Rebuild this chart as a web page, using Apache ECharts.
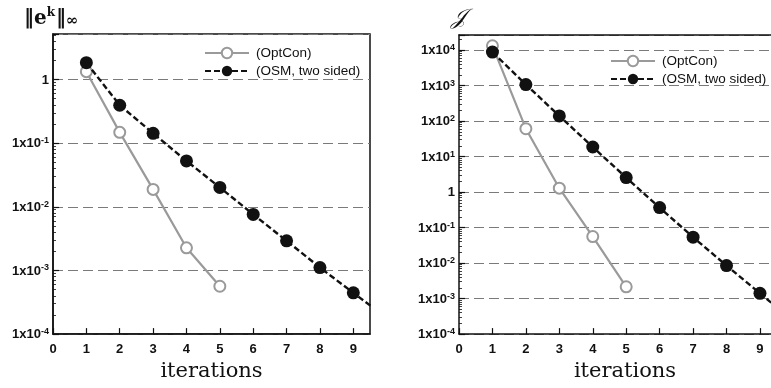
<!DOCTYPE html>
<html>
<head>
<meta charset="utf-8">
<script src="https://cdn.jsdelivr.net/npm/echarts@6/dist/echarts.min.js"></script>
<style>
html,body{margin:0;padding:0;background:#fff;}
#c{width:771px;height:388px;}
</style>
</head>
<body>
<div id="c"></div>
<script>
// ---- data ----
const iterations = [1, 2, 3, 4, 5, 6, 7, 8, 9, 10];
const seriesNames = ['(OptCon)', '(OSM, two sided)'];
// left panel: ||e^k||_inf
const errOptCon = [1.33, 0.148, 0.0188, 0.00227, 0.000565];
const errOSM = [1.84, 0.395, 0.143, 0.0526, 0.0202, 0.0076, 0.00292, 0.00111, 0.000445, 0.00018];
// right panel: J
const costOptCon = [13200, 61, 1.29, 0.056, 0.00215];
const costOSM = [8800, 1070, 140, 18.6, 2.56, 0.366, 0.0536, 0.0085, 0.00141, 0.00023];
// tick labels
const xTickLabels = ['0', '1', '2', '3', '4', '5', '6', '7', '8', '9'];
const xAxisTitle = 'iterations';

const pairs = (vals) => vals.map((v, i) => [iterations[i], v]);

const chart = echarts.init(document.getElementById('c'), null, {renderer: 'canvas'});

const yLabelFmt = (v) => {
  const e = Math.log10(v);
  const r = Math.round(e);
  if (Math.abs(e - r) > 1e-6) return '';
  if (r === 0) return '{b|1}';
  return '{b|1x10}{s|' + r + '}';
};
const yRich = {
  b: {fontFamily: 'Liberation Sans', fontWeight: 'bold', fontSize: 13, lineHeight: 14, color: '#111', verticalAlign: 'bottom'},
  s: {fontFamily: 'Liberation Sans', fontWeight: 'bold', fontSize: 9, lineHeight: 10, color: '#111', padding: [0, 0, 7, 0], verticalAlign: 'top'}
};

function xAxisDef(gridIndex, max, nameShift) {
  return {
    type: 'value', gridIndex: gridIndex, min: 0, max: max, interval: 1,
    name: xAxisTitle, nameLocation: 'middle', nameGap: 23,
    nameTextStyle: {fontFamily: 'DejaVu Serif', fontSize: 21, color: '#111', lineHeight: 22, padding: [0, 0, 0, nameShift]},
    axisLine: {show: true, lineStyle: {color: '#111', width: 1.5}},
    axisTick: {show: true, inside: true, length: 6, lineStyle: {color: '#111', width: 1.2}},
    axisLabel: {
      margin: 9, showMaxLabel: false,
      fontFamily: 'Liberation Sans', fontWeight: 'bold', fontSize: 13, color: '#111',
      formatter: (v) => (Number.isInteger(v) && v < xTickLabels.length) ? xTickLabels[v] : ''
    },
    splitLine: {show: false}
  };
}
function yAxisDef(gridIndex, max) {
  return {
    type: 'log', gridIndex: gridIndex, min: 1e-4, max: max, logBase: 10, interval: 1,
    axisLine: {show: true, lineStyle: {color: '#111', width: 1.5}},
    axisTick: {show: true, inside: true, length: 6, lineStyle: {color: '#111', width: 1.2}},
    minorTick: {show: true, splitNumber: 9, length: 3, lineStyle: {color: '#111', width: 0.8}},
    axisLabel: {margin: 4, showMaxLabel: false, formatter: yLabelFmt, rich: yRich},
    splitLine: {show: true, lineStyle: {color: '#7a7a7a', width: 1.2, type: [10, 5]}}
  };
}

function optConSeries(x, y, data) {
  return {
    name: seriesNames[0], type: 'line', xAxisIndex: x, yAxisIndex: y, data: pairs(data),
    symbol: 'circle', symbolSize: 11, clip: true,
    lineStyle: {color: '#9a9a9a', width: 2.2},
    itemStyle: {color: '#ffffff', borderColor: '#9a9a9a', borderWidth: 2},
    z: 3
  };
}
function osmSeries(x, y, data) {
  return {
    name: seriesNames[1], type: 'line', xAxisIndex: x, yAxisIndex: y, data: pairs(data),
    symbol: 'circle', symbolSize: 13, clip: true,
    lineStyle: {color: '#111', width: 2.4, type: [6, 3]},
    itemStyle: {color: '#111', borderColor: '#111', borderWidth: 0},
    z: 4
  };
}

function legendDef(left, top) {
  return {
    orient: 'vertical', left: left, top: top, itemWidth: 44, itemHeight: 13, itemGap: 4,
    data: seriesNames, selectedMode: false,
    textStyle: {fontFamily: 'Liberation Sans', fontSize: 13.5, color: '#111', padding: [0, 0, 0, 2]}
  };
}

const option = {
  backgroundColor: '#ffffff',
  animation: false,
  title: [
    {
      text: '{n|\u2016}{b|e}{k|k}{n|\u2016}{u|\u221E}',
      left: 19, top: 2,
      textStyle: {
        rich: {
          n: {fontFamily: 'DejaVu Serif', fontSize: 20, lineHeight: 22, color: '#111', verticalAlign: 'bottom'},
          b: {fontFamily: 'DejaVu Serif', fontWeight: 'bold', fontSize: 20, lineHeight: 22, color: '#111', verticalAlign: 'bottom'},
          k: {fontFamily: 'DejaVu Serif', fontWeight: 'bold', fontSize: 12, lineHeight: 12, color: '#111', verticalAlign: 'top', padding: [0, 1, 12, 0]},
          u: {fontFamily: 'DejaVu Serif', fontSize: 15, lineHeight: 14, color: '#111', verticalAlign: 'bottom', padding: [4, 0, 0, 0]}
        }
      }
    },
    {
      text: '\uD835\uDCA5',
      left: 446, top: 2,
      textStyle: {fontFamily: 'DejaVu Serif, DejaVu Sans, serif', fontStyle: 'italic', fontWeight: 'normal', fontSize: 22, color: '#111'}
    }
  ],
  legend: [legendDef(199, 41), legendDef(605, 49)],
  grid: [
    {left: 53, right: 401, top: 34, bottom: 50, show: true, borderColor: '#111', borderWidth: 1.5, backgroundColor: 'transparent'},
    {left: 459, right: 0, top: 35, bottom: 50, show: false}
  ],
  xAxis: [
    xAxisDef(0, 9.5, 0),
    xAxisDef(1, 9.33, 20),
    {
      type: 'value', gridIndex: 1, position: 'top', min: 0, max: 9.33,
      axisLine: {show: true, onZero: false, lineStyle: {color: '#111', width: 1.5}},
      axisTick: {show: false}, axisLabel: {show: false}, splitLine: {show: false}
    }
  ],
  yAxis: [yAxisDef(0, 5.2), yAxisDef(1, 26600)],
  series: [
    optConSeries(0, 0, errOptCon),
    osmSeries(0, 0, errOSM),
    optConSeries(1, 1, costOptCon),
    osmSeries(1, 1, costOSM)
  ]
};
chart.setOption(option);
</script>
</body>
</html>
